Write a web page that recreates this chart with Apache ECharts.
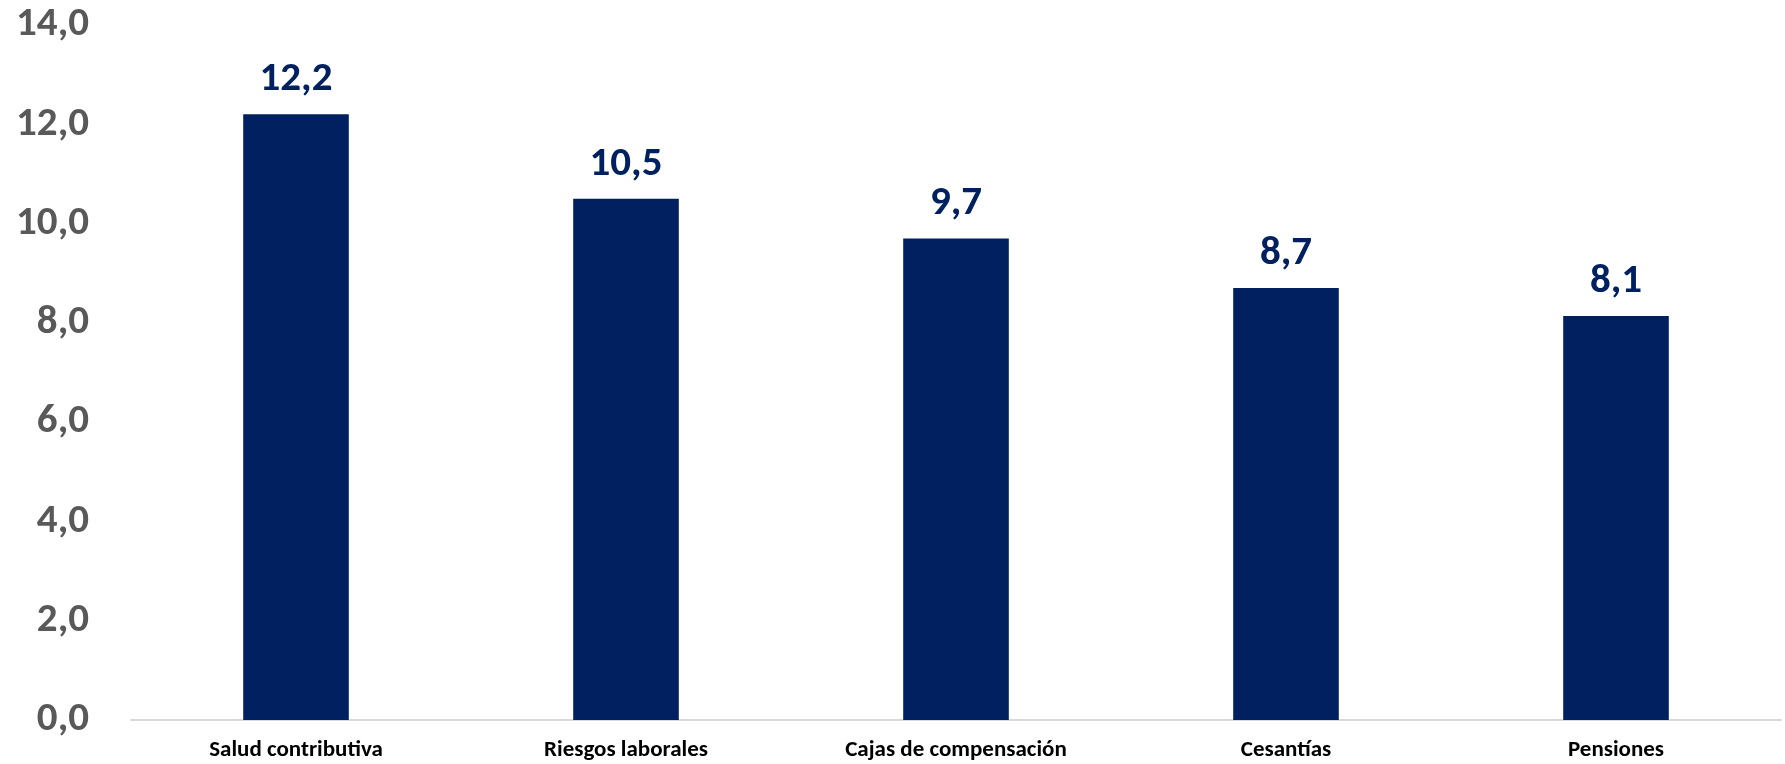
<!DOCTYPE html>
<html>
<head>
<meta charset="utf-8">
<script src="https://cdn.jsdelivr.net/npm/echarts@6/dist/echarts.min.js"></script>
<style>
html,body{margin:0;padding:0;background:#fff;}
#chart{width:1785px;height:764px;}
</style>
</head>
<body>
<div id="chart"></div>
<script>
const categories = ['Salud contributiva', 'Riesgos laborales', 'Cajas de compensación', 'Cesantías', 'Pensiones'];
const values = [12.2, 10.5, 9.7, 8.7, 8.14];
const yTicks = { min: 0, max: 14, interval: 2 };

const FONT = "Carlito, Calibri, 'Liberation Sans Narrow', 'DejaVu Sans Condensed', 'Open Sans', sans-serif";
const fmt = v => v.toFixed(1).replace('.', ',');

const chart = echarts.init(document.getElementById('chart'));
chart.setOption({
  animation: false,
  backgroundColor: '#ffffff',
  grid: { left: 131, right: 4, top: 25, bottom: 44, containLabel: false },
  xAxis: {
    type: 'category',
    data: categories,
    axisLine: { show: true, lineStyle: { color: '#d9d9d9', width: 2 } },
    axisTick: { show: false },
    axisLabel: { color: '#000000', fontFamily: FONT, fontWeight: 'bold', fontSize: 23, margin: 19 }
  },
  yAxis: {
    type: 'value',
    min: yTicks.min, max: yTicks.max, interval: yTicks.interval,
    splitLine: { show: false },
    axisLine: { show: false },
    axisTick: { show: false },
    axisLabel: { color: '#595959', fontFamily: FONT, fontWeight: 900, fontSize: 41, margin: 42, formatter: v => fmt(v) }
  },
  series: [{
    type: 'bar',
    data: values,
    barWidth: '32%',
    itemStyle: { color: '#002060' },
    label: {
      show: true, position: 'top', distance: 14,
      color: '#002060', fontFamily: FONT, fontWeight: 900, fontSize: 41,
      formatter: p => fmt(p.value)
    }
  }]
});
</script>
</body>
</html>
